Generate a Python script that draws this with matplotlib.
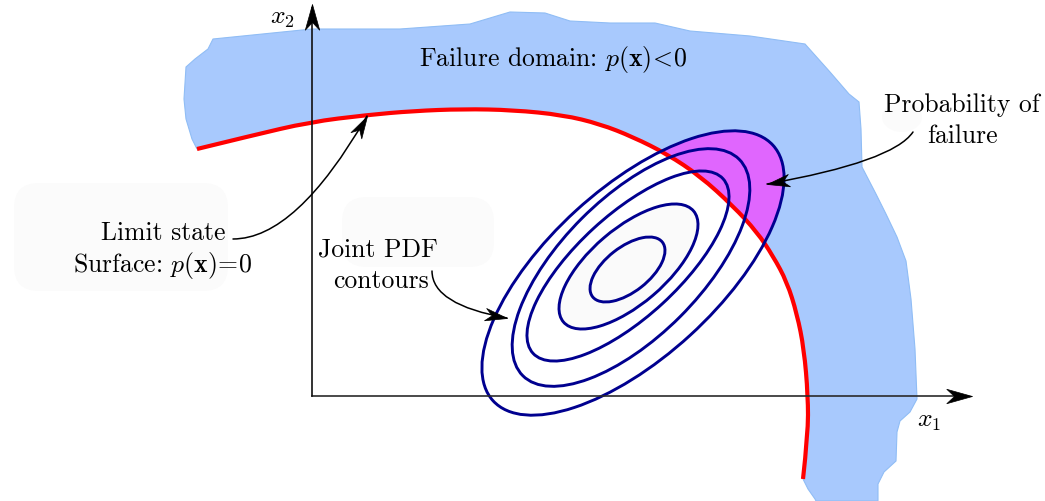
import numpy as np
import matplotlib
matplotlib.use("Agg")
from matplotlib import pyplot as plt
from matplotlib.path import Path
from matplotlib.patches import PathPatch, Ellipse, FancyBboxPatch
from matplotlib.markers import MarkerStyle
from matplotlib.transforms import Affine2D

plt.rcParams['mathtext.fontset'] = 'cm'
plt.rcParams['font.family'] = ['cmr10', 'DejaVu Serif']
plt.rcParams['axes.unicode_minus'] = False

# --- values (pixel space, y downwards) ---
# limit state curve p(x)=0
limit_x = [197, 250, 310, 367, 413, 463, 513, 563, 600, 633, 667, 700, 733, 757, 773, 787, 797, 804, 808, 808, 803]
limit_y = [150, 137, 123, 116, 112, 110, 111, 116, 125, 138, 155, 177, 207, 233, 257, 283, 315, 350, 397, 435, 480]

# outer edge of failure domain, from the end of the limit curve round to its start
dom_x = [808, 815, 816, 878, 878, 884, 896, 897, 900, 910, 917, 915, 911, 906, 897, 886,
         876, 862, 861, 859, 849, 830, 805, 750, 690, 655, 610, 570, 545, 510, 470, 400,
         312, 213, 208, 195, 186, 184, 186, 192]
dom_y = [490, 500, 502, 502, 485, 473, 462, 433, 422, 413, 400, 350, 300, 262, 238, 215,
         195, 168, 130, 103, 95, 73, 45, 37, 32, 24, 24, 22, 14, 13, 25, 30,
         30, 40, 50, 60, 68, 100, 120, 140]

# joint PDF contours (centre, full axes, tilt in degrees)
ell_cx = [627.5, 628.5, 628, 631, 633]
ell_cy = [270.5, 267.5, 267, 268.5, 274]
ell_w = [88.6, 171, 258, 306, 379]
ell_h = [44.6, 75.6, 102, 139, 169]
ell_ang = [38.1, 40.5, 42.6, 45, 42.4]

origin = (312, 397)
x1_tip = 972
x2_tip = 5

fs = 18.5

fig = plt.figure(figsize=(10.45, 5.02), dpi=100)
ax = fig.add_axes([0, 0, 1, 1])
ax.set_xlim(0, 1045)
ax.set_ylim(502, 0)
ax.axis('off')


def smooth_codes(px, py):
    # quadratic b-spline through the read points
    pts = list(zip(px, py))
    verts = [pts[0]]
    codes = [Path.MOVETO]
    for i in range(1, len(pts) - 2):
        mid = ((pts[i][0] + pts[i + 1][0]) / 2, (pts[i][1] + pts[i + 1][1]) / 2)
        verts += [pts[i], mid]
        codes += [Path.CURVE3, Path.CURVE3]
    verts += [pts[-2], pts[-1]]
    codes += [Path.CURVE3, Path.CURVE3]
    return verts, codes


# tikz-like stealth head, tip at (0, 0)
stealth = Path([(0, 0), (-1, 0.28), (-0.7, 0), (-1, -0.28), (0, 0)],
               [Path.MOVETO, Path.LINETO, Path.LINETO, Path.LINETO, Path.CLOSEPOLY])


def head(x, y, angle, size):
    m = MarkerStyle(stealth, transform=Affine2D().rotate_deg(angle))
    ax.plot([x], [y], marker=m, markersize=size, color='k', mec='k', mew=0.5, zorder=8)


lv, lc = smooth_codes(limit_x, limit_y)

# faint background blobs behind labels
for bx, by, bw, bh in [(14, 184, 214, 108), (342, 198, 152, 70)]:
    ax.add_patch(FancyBboxPatch((bx, by), bw, bh, boxstyle="round,pad=0,rounding_size=25",
                                fc='#fbfbfb', ec='none', zorder=0))
ax.add_patch(Ellipse((902, 118), 40, 30, fc='#fbfbfb', ec='none', zorder=0))

# failure domain
dv = lv + list(zip(dom_x, dom_y)) + [lv[0]]
dc = lc + [Path.LINETO] * len(dom_x) + [Path.CLOSEPOLY]
domain = PathPatch(Path(dv, dc), fc='#a8c9fd', ec='#90bdf5', lw=0.8, zorder=1)
ax.add_patch(domain)

# probability of failure: outer contour inside failure domain
pf = Ellipse((ell_cx[-1], ell_cy[-1]), ell_w[-1], ell_h[-1], angle=-ell_ang[-1],
             fc='#e066fe', ec='none', zorder=2)
ax.add_patch(pf)
pf.set_clip_path(domain)

# light fill of the inner contours
ax.add_patch(Ellipse((ell_cx[1], ell_cy[1]), ell_w[1], ell_h[1], angle=-ell_ang[1],
                     fc='#fafafa', ec='none', zorder=2))

# limit state curve
ax.add_patch(PathPatch(Path(lv, lc), fc='none', ec='#ff0000', lw=3.0, zorder=3,
                       capstyle='butt'))

# contours
for cx, cy, w, h, a in zip(ell_cx, ell_cy, ell_w, ell_h, ell_ang):
    ax.add_patch(Ellipse((cx, cy), w, h, angle=-a, fc='none', ec='#00008f', lw=2.1, zorder=4))

# axes with arrows
ax.plot([origin[0], x1_tip - 4], [origin[1], origin[1]], color='#2a2a2a', lw=1.2, zorder=5)
ax.plot([origin[0], origin[0]], [origin[1], x2_tip + 4], color='#111111', lw=1.2, zorder=5)
head(x1_tip, origin[1], 0, 37)
head(origin[0], x2_tip, 90, 37)
ax.text(282, 24, r'$x_2$', fontsize=fs, ha='center', va='baseline')
ax.text(929, 427, r'$x_1$', fontsize=fs, ha='center', va='baseline')

# labels
ax.text(553, 66, r'Failure domain: $p(\mathbf{x})\!<\!0$', fontsize=fs, ha='center', va='baseline')
ax.text(962, 112, 'Probability of', fontsize=fs, ha='center', va='baseline')
ax.text(962, 143, 'failure', fontsize=fs, ha='center', va='baseline')
ax.text(163, 240, 'Limit state', fontsize=fs, ha='center', va='baseline')
ax.text(163, 272, r'Surface: $p(\mathbf{x})\!=\!0$', fontsize=fs, ha='center', va='baseline')
ax.text(378, 257, 'Joint PDF', fontsize=fs, ha='center', va='baseline')
ax.text(381, 288, 'contours', fontsize=fs, ha='center', va='baseline')

# curved pointer arrows: start, tip, connection angles, arrival angle
pointers = [((233, 240), (367, 117), 'angle3,angleA=0,angleB=60', 60),
            ((432, 272), (507, 319), 'angle3,angleA=90,angleB=-10', -10),
            ((913, 133), (767, 185), 'angle3,angleA=56,angleB=10', 190)]
for start, tip, conn, arr in pointers:
    ax.annotate('', xy=tip, xytext=start,
                arrowprops=dict(arrowstyle='-', color='k', lw=1.1, shrinkA=0, shrinkB=0,
                                connectionstyle=conn), zorder=7)
    head(tip[0], tip[1], arr, 32)

fig.savefig('out.png', dpi=100)
